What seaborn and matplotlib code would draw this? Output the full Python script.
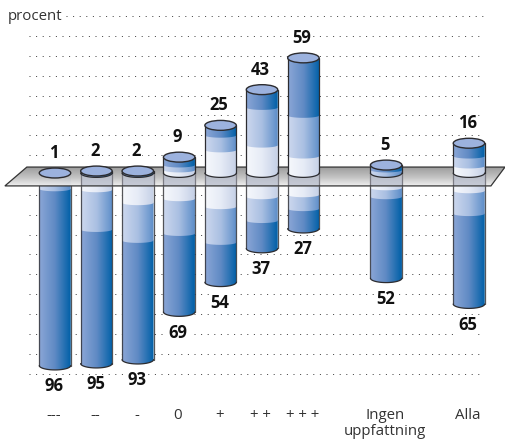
import numpy as np
import pandas as pd
import matplotlib
matplotlib.use('Agg')
import matplotlib.pyplot as plt
import seaborn as sns
from matplotlib.colors import LinearSegmentedColormap
from matplotlib.patches import Ellipse, PathPatch, Polygon
from matplotlib.path import Path

# blank names keep the gaps before the last two columns
order = ['---', '--', '-', '0', '+', '+ +', '+ + +', ' ', 'Ingen\nuppfattning', '  ', 'Alla']
labels = ['---', '--', '-', '0', '+', '+ +', '+ + +', 'Ingen\nuppfattning', 'Alla']

pos_total = [1, 2, 2, 9, 25, 43, 59, 5, 16]
pos_dark = [1, 2, 2, 4, 5, 9, 29, 2.5, 6.5]
pos_mid = [0, 0, 0, 2.5, 7.4, 19, 20.5, 1.5, 5]
pos_light = [0, 0, 0, 2.5, 12.6, 15, 9.5, 1, 4.5]

neg_total = [96, 95, 93, 69, 54, 37, 27, 52, 65]
neg_light = [0, 7.5, 14, 12, 16, 11, 10, 6.5, 8]
neg_mid = [7, 20, 19, 17.5, 18, 12, 7, 4.5, 11.5]
neg_dark = [89, 67.5, 60, 39.5, 20, 14, 10, 41, 45.5]

grid_levels = [10, 20, 30, 40, 50, 60, 70, 80, -10, -20, -30, -40, -50, -60, -70, -80, -90, -100]

sns.set_theme(style='white')
plt.rcParams['font.family'] = ['Open Sans', 'DejaVu Sans']

fig = plt.figure(figsize=(5.05, 4.4), dpi=100)
ax = fig.add_axes([0, 0, 1, 1])

df = pd.DataFrame({'cat': labels,
                   'p1': pos_light,
                   'n3': -np.array(neg_total, dtype=float)})
df['p2'] = df['p1'] + pos_mid
df['p3'] = df['p2'] + pos_dark
df['n1'] = -np.array(neg_light, dtype=float)
df['n2'] = df['n1'] - neg_mid

dark = LinearSegmentedColormap.from_list('dark', ['#8ba6d6', '#5f8ac4', '#0060a8'])
mid = LinearSegmentedColormap.from_list('mid', ['#cdd8ee', '#a9bfe2', '#5d8ec9'])
light = LinearSegmentedColormap.from_list('light', ['#f6f8fc', '#e6ebf6', '#c5d0e6'])
grad = np.linspace(0, 1, 64).reshape(1, -1)


def layer(col):
    # let seaborn place the bars, then keep only their geometry
    before = len(ax.patches)
    sns.barplot(data=df, x='cat', y=col, order=order, width=0.76, color='#4477aa', saturation=1, ax=ax)
    out = {}
    for r in ax.patches[before:]:
        r.set_visible(False)
        out[int(round(r.get_x() + r.get_width() / 2))] = r
    return out


def segment_path(x0, x1, top, bot, bulge):
    t = np.linspace(np.pi, 0, 30)
    xs = (x0 + x1) / 2 + (x1 - x0) / 2 * np.cos(t)
    ys = bot - bulge * np.sin(t)
    pts = [(x0, top), (x1, top)] + [(x1, bot)] + list(zip(xs[::-1], ys[::-1])) + [(x0, top)]
    return Path(pts)


def segment(rect, top, bot, cmap, z, bulge=1.2):
    x0 = rect.get_x()
    x1 = x0 + rect.get_width()
    if top - bot <= 0:
        return
    im = ax.imshow(grad, cmap=cmap, extent=(x0, x1, bot - 3, top), aspect='auto',
                   interpolation='bilinear', zorder=z)
    im.set_clip_path(PathPatch(segment_path(x0, x1, top, bot, bulge), transform=ax.transData))


base = 1.0
rows_pos = [layer('p3'), layer('p2'), layer('p1')]
rows_neg = [layer('n1'), layer('n2'), layer('n3')]

edge = '#2c2c30'
for pos in rows_pos[0]:
    r3, r2, r1 = rows_pos[0][pos], rows_pos[1][pos], rows_pos[2][pos]
    t3, t2, t1 = r3.get_height(), r2.get_height(), r1.get_height()
    x0 = r3.get_x()
    x1 = x0 + r3.get_width()
    t = np.linspace(np.pi, 2 * np.pi, 30)
    arc_x = (x0 + x1) / 2 + (x1 - x0) / 2 * np.cos(t)

    # columns above the plane
    segment(r1, max(t1, base), base, light, 6, 2.2)
    segment(r2, max(t2, base), max(t1, base), mid, 7, 2.2 if t1 <= base else 1.2)
    segment(r3, max(t3, base), max(t2, base), dark, 8, 2.2 if t2 <= base else 1.2)
    if t3 > base:
        ax.plot([x0, x0], [base, t3], color=edge, lw=0.9, zorder=9)
        ax.plot([x1, x1], [base, t3], color=edge, lw=0.9, zorder=9)
        ax.plot(arc_x, base + 2.2 * np.sin(t), color=edge, lw=0.9, zorder=9)
    ax.add_patch(Ellipse(((x0 + x1) / 2, t3), x1 - x0, 5, facecolor='#9cb2de', edgecolor=edge, lw=1, zorder=10))

    # columns below the plane
    n1, n2, n3 = rows_neg[0][pos], rows_neg[1][pos], rows_neg[2][pos]
    b1, b2, b3 = n1.get_height(), n2.get_height(), n3.get_height()
    segment(n3, b2, b3, dark, 1.5, 2.2)
    segment(n2, b1, b2, mid, 1.6)
    segment(n1, 0, b1, light, 1.7)
    ax.plot([x0, x0], [-5.5, b3], color=edge, lw=0.9, alpha=0.8, zorder=1.8)
    ax.plot([x1, x1], [-5.5, b3], color=edge, lw=0.9, alpha=0.8, zorder=1.8)
    ax.plot(arc_x, b3 + 2.2 * np.sin(t), color=edge, lw=0.9, zorder=1.8)

    i = labels.index(order[pos])
    # the part of the column seen through the plane
    if neg_light[i] > 0:
        ax.fill_between([x0, x1], -5.5, 1, color='#b9bfce', alpha=0.75, lw=0, zorder=4.2)
        ax.plot([x0, x0], [-5.5, 1], color='#7c7c84', lw=0.9, zorder=4.3)
        ax.plot([x1, x1], [-5.5, 1], color='#7c7c84', lw=0.9, zorder=4.3)

    ax.annotate(str(pos_total[i]), (pos, t3), xytext=(-1.2, 14.5), textcoords='offset points',
                ha='center', va='center', fontsize=12, fontweight='bold', color='#111111', zorder=12,
                bbox=dict(facecolor='white', edgecolor='none', pad=0.6))
    ax.annotate(str(neg_total[i]), (pos, b3), xytext=(-0.6, -15), textcoords='offset points',
                ha='center', va='center', fontsize=12, fontweight='bold', color='#111111', zorder=12,
                bbox=dict(facecolor='white', edgecolor='none', pad=0.6))
    ax.text(pos - 0.03, -117.4, order[pos], ha='center', va='top', fontsize=10.8, color='#333333',
            linespacing=1.05, zorder=12)

# dotted levels
for v in grid_levels:
    ax.hlines(v, 0.26 if v == 80 else -0.63, 10.36, color='#444444', lw=0.72,
              linestyles=(0, (1, 5.6)), zorder=1)
ax.text(-1.13, 80, 'procent', ha='left', va='center', fontsize=10.8, color='#333333', zorder=12)

# the grey plane
plane = np.array([[-1.21, -5.5], [-0.68, 4], [10.87, 4], [10.53, -5.5]])
grey = LinearSegmentedColormap.from_list('grey', ['#999999', '#bdbdbd', '#efefef'])
im = ax.imshow(np.linspace(0, 1, 32).reshape(-1, 1), cmap=grey, extent=(-1.3, 10.87, -5.5, 4),
               aspect='auto', interpolation='bilinear', alpha=0.96, zorder=4)
im.set_clip_path(Polygon(plane, closed=True, transform=ax.transData))
ax.add_patch(Polygon(plane, closed=True, fill=False, edgecolor='#333333', lw=0.9, zorder=4.5))

ax.set_xlim(-1.3285, 10.87)
ax.set_ylim(-133.5, 88.16)
ax.axis('off')

fig.savefig('out.png', dpi=100, facecolor='white')
